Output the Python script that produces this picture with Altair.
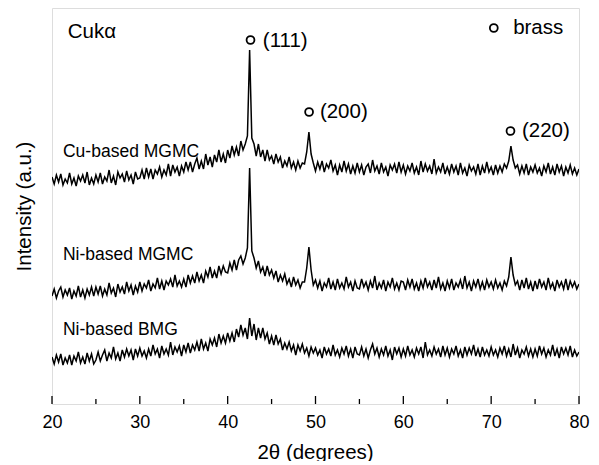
import altair as alt
import pandas as pd

# 2-theta scan positions (0.25 degree step, 20..80)
two_theta = [round(20 + 0.25 * i, 2) for i in range(241)]

# Intensities (arbitrary units, offset stacks)
cu_mgmc = [
    227,220,229,222,230,219,225,221,231,220,226,218,228,223,229,221,232,219,226,220,
    229,222,231,220,227,223,234,221,228,219,232,226,230,222,233,224,229,220,232,225,
    226,234,225,236,227,235,225,234,230,237,227,234,229,240,228,239,232,237,228,238,
    232,242,234,242,232,240,246,235,243,235,250,239,247,237,249,242,254,242,250,241,
    254,246,258,249,257,248,263,254,260,268,354,266,260,248,260,247,254,243,254,244,
    248,240,250,242,247,236,243,238,247,236,242,234,243,236,241,240,252,272,250,241,
    233,242,235,243,232,240,236,244,233,239,229,239,232,243,233,240,230,238,231,241,
    232,239,229,237,240,231,244,233,238,230,241,232,237,228,239,234,240,231,242,232,
    239,230,238,233,241,231,237,229,243,232,240,233,238,230,245,231,237,232,241,230,
    237,230,240,232,238,229,241,231,236,228,239,233,237,230,240,229,238,231,242,232,
    237,229,239,231,238,232,240,236,243,258,244,236,239,230,238,231,240,229,237,232,
    239,231,236,228,238,232,241,230,237,229,240,232,238,228,237,231,239,230,236,229,
    235,
]
ni_mgmc = [
    108,115,106,113,117,107,114,109,116,105,113,108,118,107,114,106,115,109,117,108,
    117,110,118,108,115,109,121,111,116,107,120,112,117,110,122,113,119,109,118,112,
    122,113,120,116,124,113,120,116,126,115,123,114,123,119,125,117,129,118,123,117,
    125,117,129,121,128,121,132,123,129,121,133,127,137,126,133,126,138,130,138,132,
    131,141,134,144,134,144,148,140,146,156,236,153,146,136,143,132,137,128,138,129,
    134,126,133,122,129,123,130,120,125,117,127,119,124,116,122,122,136,157,134,119,
    124,116,123,113,121,117,126,115,122,114,125,116,121,115,127,117,122,113,123,116,
    115,125,117,122,114,123,116,128,114,121,116,124,113,122,117,126,115,121,114,123,
    122,114,124,117,125,115,121,113,123,116,126,117,122,114,124,116,127,115,121,113,
    123,116,125,114,121,117,124,115,128,116,122,113,123,117,125,115,122,114,124,117,
    122,115,124,116,121,114,123,118,127,147,129,119,123,114,124,116,126,115,122,113,
    123,115,125,117,122,114,126,116,121,113,124,117,122,115,125,114,123,117,122,115,
    120,
]
ni_bmg = [
    47,40,49,42,50,39,46,41,49,39,48,43,52,41,47,40,51,43,50,40,
    44,52,43,49,54,43,51,46,57,45,51,43,54,47,55,48,54,44,55,48,
    56,48,53,46,55,48,59,50,55,46,58,50,55,49,62,49,57,52,58,48,
    59,52,61,51,59,54,62,53,65,55,61,53,65,59,66,57,70,61,68,61,
    71,63,71,62,75,67,79,69,76,65,86,68,80,64,76,66,76,65,71,60,
    68,59,69,60,65,54,61,55,62,53,59,49,59,53,60,51,56,48,57,51,
    56,49,54,46,57,50,55,48,59,49,54,47,56,50,58,48,55,46,57,50,
    49,57,48,55,46,54,60,50,56,47,55,49,58,48,54,44,57,50,56,47,
    55,48,58,49,54,47,56,50,57,46,62,49,54,48,57,50,55,47,58,49,
    56,47,55,50,58,48,54,46,57,49,56,50,59,48,55,47,57,49,54,48,
    57,49,54,47,56,50,58,48,55,47,60,49,56,46,54,50,57,48,55,47,
    55,48,58,50,56,47,54,49,59,48,55,46,57,50,56,49,58,47,54,48,
    52,
]

major_ticks = [20, 30, 40, 50, 60, 70, 80]
minor_ticks = [25, 35, 45, 55, 65, 75]

# sample labels
sample_names = ["Cu-based MGMC", "Ni-based MGMC", "Ni-based BMG"]
sample_label_x = [21.25, 21.25, 21.25]
sample_label_y = [252, 149, 74]

# peak markers (brass reflections)
peak_names = ["(111)", "(200)", "(220)"]
peak_circle_x = [42.6, 49.27, 72.2]
peak_circle_y = [364, 292, 273]
peak_text_x = [44.0, 50.5, 73.5]
peak_text_y = [363, 292, 273]

# legend / radiation
legend_circle_x = [70.3]
legend_circle_y = [376]
legend_text = ["brass"]
legend_text_x = [72.5]
legend_text_y = [376]
radiation_text = ["Cukα"]
radiation_x = [21.8]
radiation_y = [372]

rows = []
for name, vals in zip(sample_names, [cu_mgmc, ni_mgmc, ni_bmg]):
    for t, v in zip(two_theta, vals):
        rows.append({"theta": t, "intensity": v, "sample": name})
df = pd.DataFrame(rows)

FONT = "Liberation Sans"
xscale = alt.Scale(domain=[20, 80], nice=False, zero=False)
yscale = alt.Scale(domain=[0, 396], nice=False, zero=True)

lines = alt.Chart(df).mark_line(color="black", strokeWidth=1.5, clip=True).encode(
    x=alt.X("theta:Q", scale=xscale,
            axis=alt.Axis(values=major_ticks, tickSize=0, domain=False, grid=False,
                          labelFont=FONT, labelFontSize=18, labelColor="black",
                          labelPadding=9, labelFlush=False,
                          title="2θ (degrees)", titleFont=FONT, titleFontSize=20.5,
                          titleFontWeight="normal", titleColor="black",
                          titleX=263, titleY=48, titleBaseline="middle")),
    y=alt.Y("intensity:Q", scale=yscale,
            axis=alt.Axis(labels=False, ticks=False, domain=False, grid=False,
                          title="Intensity (a.u.)", titleFont=FONT, titleFontSize=20.5,
                          titleFontWeight="normal", titleColor="black",
                          titleX=-28, titleY=198, titleAngle=-90,
                          titleAlign="center", titleBaseline="middle")),
    detail="sample:N",
)

maj = alt.Chart(pd.DataFrame({"pos": major_ticks})).mark_rule(color="black", strokeWidth=1.3).encode(
    x=alt.X("pos:Q", scale=xscale), y=alt.value(396), y2=alt.value(388))
mnr = alt.Chart(pd.DataFrame({"pos": minor_ticks})).mark_rule(color="black", strokeWidth=1.3).encode(
    x=alt.X("pos:Q", scale=xscale), y=alt.value(396), y2=alt.value(391))

lab_df = pd.DataFrame({"x": sample_label_x, "y": sample_label_y, "t": sample_names})
labels = alt.Chart(lab_df).mark_text(align="left", baseline="middle", font=FONT, fontSize=17.5,
                                     color="black").encode(
    x=alt.X("x:Q", scale=xscale), y=alt.Y("y:Q", scale=yscale), text="t:N")

circ_df = pd.DataFrame({"x": peak_circle_x + legend_circle_x, "y": peak_circle_y + legend_circle_y})
circles = alt.Chart(circ_df).mark_point(shape="circle", filled=False, size=62, strokeWidth=1.8,
                                        color="black", opacity=1).encode(
    x=alt.X("x:Q", scale=xscale), y=alt.Y("y:Q", scale=yscale))

pk_df = pd.DataFrame({"x": peak_text_x + legend_text_x + radiation_x,
                      "y": peak_text_y + legend_text_y + radiation_y,
                      "t": peak_names + legend_text + radiation_text})
pk_text = alt.Chart(pk_df).mark_text(align="left", baseline="middle", font=FONT, fontSize=20.5,
                                     color="black").encode(
    x=alt.X("x:Q", scale=xscale), y=alt.Y("y:Q", scale=yscale), text="t:N")

chart = alt.layer(lines, maj, mnr, labels, circles, pk_text).properties(
    width=527, height=396,
    autosize=alt.AutoSizeParams(type="none"),
    padding={"left": 44, "top": 0, "right": 12, "bottom": 57},
).configure_view(stroke="black", strokeWidth=1.5).configure(background="white")

chart.save("out.html", embed_options={"renderer": "svg", "actions": False})
